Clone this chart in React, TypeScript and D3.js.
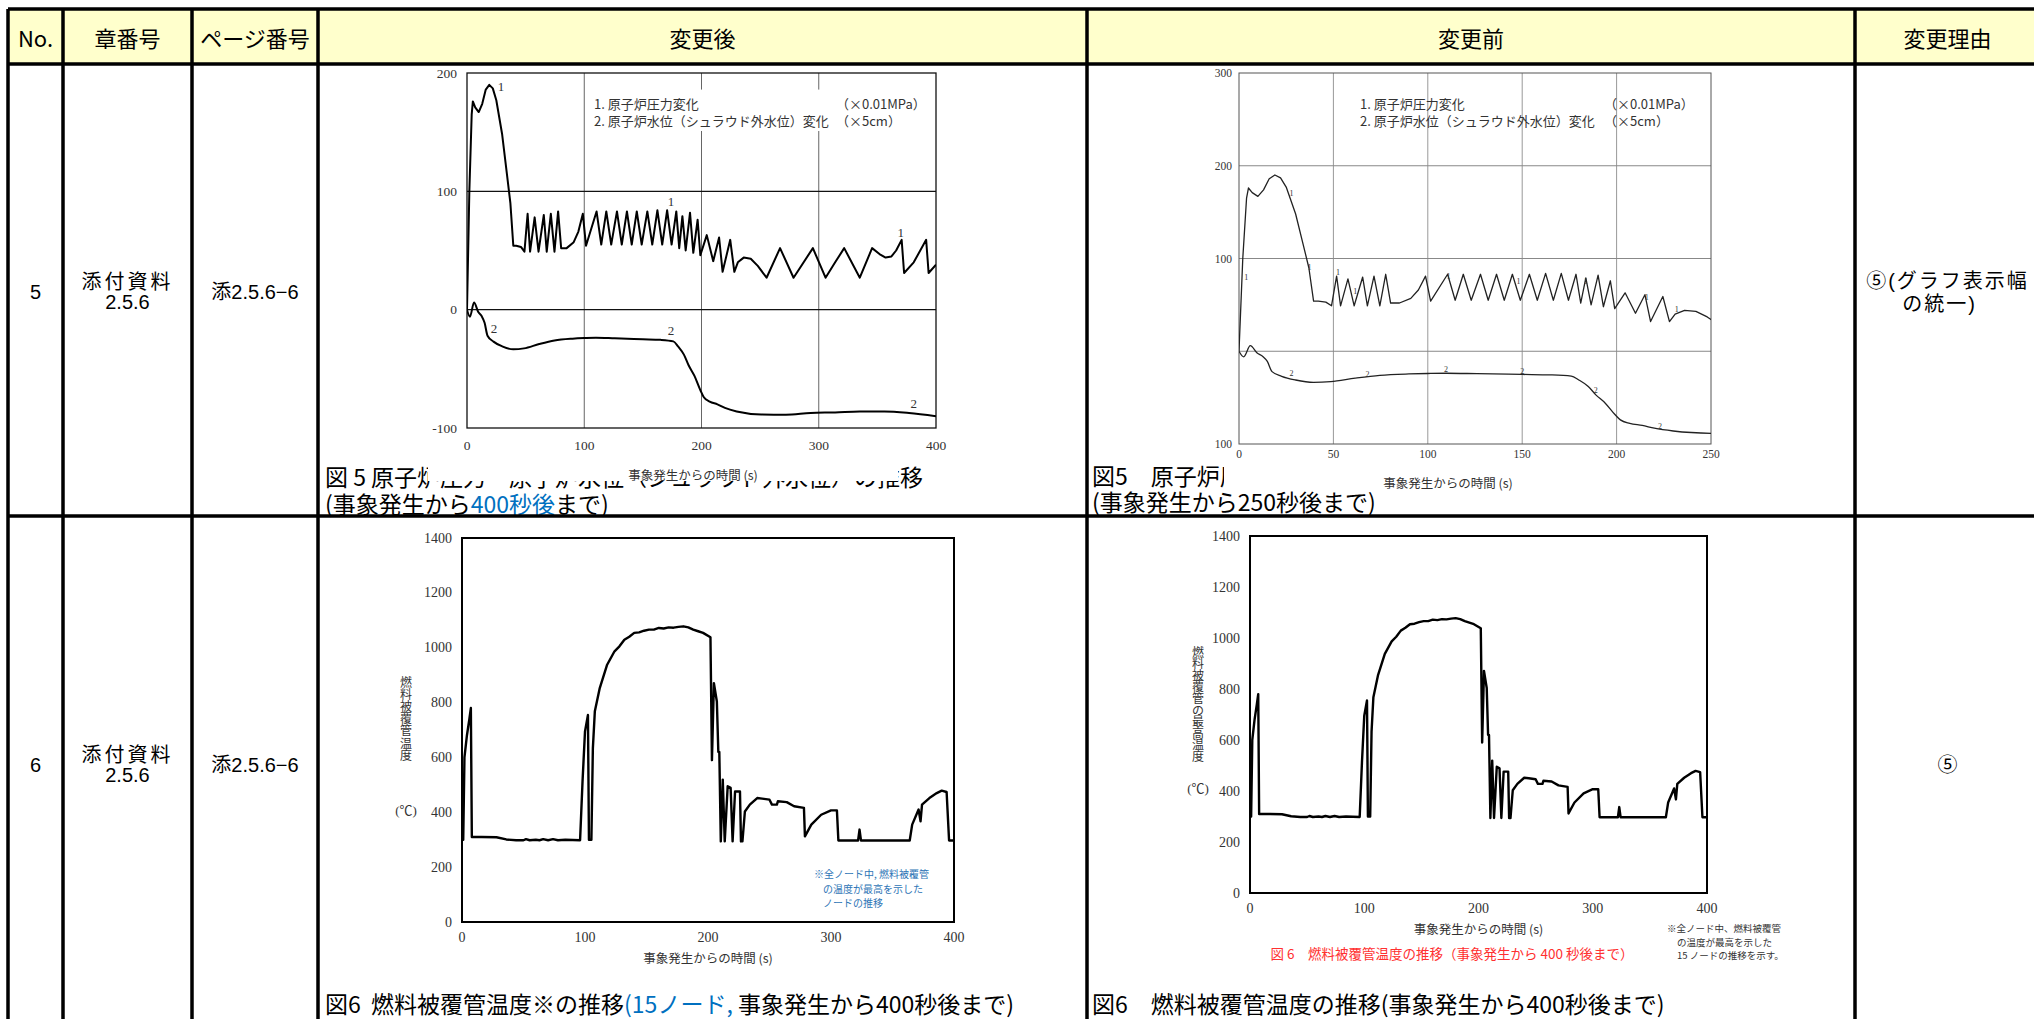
import React from "react";
import * as d3 from "d3";

type Pt = [number, number];

// table content
const headers = ["No.", "章番号", "ページ番号", "変更後", "変更前", "変更理由"];
const rowNos = ["5", "6"];
const chapterLines = ["添付資料", "2.5.6"];
const pageNo = "添2.5.6−6";
const reasonRow5 = ["⑤(グラフ表示幅", "の統一)"];
const reasonRow6 = "⑤";

// fig 5: reactor pressure (x0.01MPa) and water level (x5cm)
const pressure: Pt[] = [
  [0, 0], [2, 100], [4, 165], [5, 176], [7, 171], [10, 167], [13, 174], [16, 186], [19, 190], [22, 187],
  [25, 177], [30, 148], [34, 115], [37, 90], [39.5, 54], [42, 54], [46, 53], [49, 49],
  [51.7, 81], [53.8, 49], [57.7, 78], [61, 49], [65.5, 80], [68, 49], [71.5, 81], [74.6, 49], [77.7, 83], [80.3, 52],
  [85, 52], [91, 57], [95, 66], [98.8, 81], [101.5, 54], [110.5, 83], [114.5, 55], [118.8, 83], [123, 55],
  [127.9, 83], [132, 55], [136.4, 83], [140.5, 55], [144.8, 83], [149, 55], [153.8, 83], [158, 55], [162.4, 84],
  [166.5, 55], [170.7, 84], [174.5, 55], [178.5, 83], [181, 52], [183.7, 79], [186.5, 50], [190.2, 82], [193, 48],
  [196.7, 76], [199, 46], [204.5, 63], [210, 41], [215, 61], [218, 32], [224.5, 59], [228, 32], [231, 40],
  [236, 44], [242, 43], [248, 37], [255.5, 27], [267, 52], [278.5, 27], [295, 52], [305.8, 27], [314, 40],
  [321.7, 52], [335, 27], [345.5, 52], [351.8, 47], [357, 44], [362, 45], [366, 50], [370.7, 59], [372.8, 31],
  [381, 40], [391.6, 59], [393.7, 31], [400, 38],
];
const waterLevel: Pt[] = [
  [0, 0], [2.5, -6], [6, 6], [9.6, -2], [12.6, -5.6], [15, -11], [17.5, -22], [22.6, -27], [30, -31], [39.5, -33.5],
  [48.6, -32.7], [61.6, -29], [74.6, -26], [90, -24.5], [100, -24], [110, -23.7], [126, -24.2], [150, -25],
  [165, -25.5], [176, -26.8], [180, -31], [185, -38], [189, -47], [194, -56], [199, -68], [202, -74], [207, -77.7],
  [213.6, -80], [220, -83], [230, -86], [251, -88.5], [272, -88.7], [293, -87.3], [314, -86.8], [335, -86],
  [356, -86], [377, -87.3], [400, -90],
];
const pressureMarksNew: Pt[] = [[29, 189], [174, 91], [370, 65]];
const waterMarksNew: Pt[] = [[23, -16], [174, -18], [381, -79]];
const pressureMarksOld: Pt[] = [[3.9, 80], [27.8, 170], [37.4, 90], [52.5, 85], [61.6, 64], [111, 81], [148, 75], [183.7, 75], [216, 58], [231.8, 45]];
const waterMarksOld: Pt[] = [[27.8, -24], [68, -25], [109.7, -20], [150, -22], [189, -42], [223, -81]];

const fig5NewXTicks = [0, 100, 200, 300, 400];
const fig5NewYTicks = [200, 100, 0, -100];
const fig5OldXTicks = [0, 50, 100, 150, 200, 250];
const fig5OldYTicks = [300, 200, 100, 0, -100];
const fig5OldYLabels = ["300", "200", "100", "", "100"];

// fig 6: clad temperature (deg C)
const cladTemp: Pt[] = [
  [0, 300], [1, 300], [2, 600], [4, 680], [6, 740], [7.2, 780], [8, 310], [16, 310], [28, 309], [36, 301],
  [44, 298], [50, 298], [52, 302], [55, 298], [60, 300], [63, 298], [66, 302], [70, 298], [74, 302], [78, 298],
  [84, 300], [96, 298], [98, 513], [100, 695], [102.4, 755], [103.2, 300], [105.2, 300], [106.4, 634], [108, 768],
  [112, 853], [118, 938], [124, 987], [128, 1005], [132, 1029], [136, 1040], [140, 1054], [144, 1056], [148, 1062],
  [152, 1066], [156, 1066], [160, 1072], [164, 1070], [168, 1074], [172, 1073], [176, 1076], [180, 1078],
  [184, 1074], [188, 1066], [192, 1060], [196, 1054], [202, 1038], [203.2, 590], [204.8, 871], [207.2, 804],
  [208.4, 620], [209.2, 620], [210.4, 294], [212, 519], [213.6, 294], [216, 495], [218.4, 489], [220, 294],
  [222, 476], [226, 476], [226.8, 294], [228, 294], [230, 403], [234, 428], [240, 452], [244, 450], [250, 446],
  [252, 428], [256, 428], [256.8, 440], [264, 437], [270, 422], [278, 416], [278.8, 312], [284, 355], [292, 391],
  [300, 407], [304.8, 407], [306, 297], [322, 297], [323.2, 337], [324.4, 297], [364, 297], [366, 355],
  [371.2, 410], [372.8, 367], [374, 428], [380, 452], [386, 470], [390, 479], [394, 474], [396, 297], [400, 297],
];
const fig6XTicks = [0, 100, 200, 300, 400];
const fig6YTicks = [0, 200, 400, 600, 800, 1000, 1200, 1400];

const serif = "'Liberation Serif', 'Noto Sans CJK JP', serif";
const gothic = "'Noto Sans CJK JP', sans-serif";
const rowFont = "'Liberation Sans', 'Noto Sans CJK JP', sans-serif";

const colX = [8, 63, 192, 318, 1087, 1855, 2040];
const rowY = [9, 64, 516, 1040];

function Fig5(props: any) {
  const { id, box, xMax, yDomain, xTicks, yTicks, yLabels, gridX, gridY, isNew, pMarks, wMarks, legend } = props;
  const x = d3.scaleLinear().domain([0, xMax]).range([box.l, box.r]);
  const y = d3.scaleLinear().domain(yDomain).range([box.b, box.t]);
  const lin = d3.line<Pt>().x((d) => x(d[0])).y((d) => y(d[1]));
  const smooth = d3.line<Pt>().x((d) => x(d[0])).y((d) => y(d[1])).curve(d3.curveMonotoneX);
  const curveColor = isNew ? "#000" : "#222";
  const curveW = isNew ? 2 : 1.3;
  const markSize = isNew ? 13 : 8;
  const tickSize = isNew ? 13.5 : 11.5;
  return (
    <g>
      <clipPath id={id}>
        <rect x={box.l} y={box.t} width={box.r - box.l} height={box.b - box.t} />
      </clipPath>
      {gridX.map((v: number) => (
        <line key={"gx" + v} x1={x(v)} x2={x(v)} y1={box.t} y2={box.b} stroke={isNew ? "#666" : "#999"} strokeWidth={1} />
      ))}
      {gridY.map((v: number) => (
        <line key={"gy" + v} x1={box.l} x2={box.r} y1={y(v)} y2={y(v)} stroke={isNew ? "#111" : "#888"} strokeWidth={isNew ? 1.3 : 1} />
      ))}
      {isNew && <rect x={x(102)} y={y(186)} width={x(383) - x(102)} height={y(151) - y(186)} fill="#fff" />}
      <rect x={box.l} y={box.t} width={box.r - box.l} height={box.b - box.t} fill="none" stroke={isNew ? "#111" : "#555"} strokeWidth={isNew ? 1.3 : 1} />
      <g clipPath={`url(#${id})`}>
        <path d={lin(pressure) || ""} fill="none" stroke={curveColor} strokeWidth={curveW} strokeLinejoin="round" />
        <path d={smooth(waterLevel) || ""} fill="none" stroke={curveColor} strokeWidth={curveW} strokeLinejoin="round" />
      </g>
      {pMarks.map((d: Pt, i: number) => (
        <text key={"pm" + i} x={x(d[0])} y={y(d[1])} fontFamily={serif} fontSize={markSize} fill="#333" textAnchor="middle" dominantBaseline="central">1</text>
      ))}
      {wMarks.map((d: Pt, i: number) => (
        <text key={"wm" + i} x={x(d[0])} y={y(d[1])} fontFamily={serif} fontSize={markSize} fill="#333" textAnchor="middle" dominantBaseline="central">2</text>
      ))}
      {yTicks.map((v: number, i: number) => (
        <text key={"yt" + v} x={box.l - (isNew ? 10 : 7)} y={y(v)} fontFamily={serif} fontSize={tickSize} fill="#333" textAnchor="end" dominantBaseline="central">
          {yLabels[i]}
        </text>
      ))}
      {xTicks.map((v: number) => (
        <text key={"xt" + v} x={x(v)} y={box.b + (isNew ? 17 : 10)} fontFamily={serif} fontSize={tickSize} fill="#333" textAnchor="middle" dominantBaseline="central">
          {v}
        </text>
      ))}
      <text x={legend.x} y={legend.y} fontFamily={gothic} fontSize={13} fill="#333" dominantBaseline="central">1. 原子炉圧力変化</text>
      <text x={legend.x} y={legend.y + 17} fontFamily={gothic} fontSize={13} fill="#333" dominantBaseline="central">2. 原子炉水位（シュラウド外水位）変化</text>
      <text x={legend.ux} y={legend.y} fontFamily={gothic} fontSize={13} fill="#333" dominantBaseline="central">（×0.01MPa）</text>
      <text x={legend.ux} y={legend.y + 17} fontFamily={gothic} fontSize={13} fill="#333" dominantBaseline="central">（×5cm）</text>
    </g>
  );
}

function Fig6(props: any) {
  const { id, box, yTitle, yTitleX, yTitleY, yStep, unitY } = props;
  const x = d3.scaleLinear().domain([0, 400]).range([box.l, box.r]);
  const y = d3.scaleLinear().domain([0, 1400]).range([box.b, box.t]);
  const lin = d3.line<Pt>().x((d) => x(d[0])).y((d) => y(d[1]));
  return (
    <g>
      <clipPath id={id}>
        <rect x={box.l} y={box.t} width={box.r - box.l} height={box.b - box.t} />
      </clipPath>
      <rect x={box.l} y={box.t} width={box.r - box.l} height={box.b - box.t} fill="none" stroke="#000" strokeWidth={2} />
      <g clipPath={`url(#${id})`}>
        <path d={lin(cladTemp) || ""} fill="none" stroke="#000" strokeWidth={2.4} strokeLinejoin="round" />
      </g>
      {fig6YTicks.map((v) => (
        <text key={"yt" + v} x={box.l - 10} y={y(v)} fontFamily={serif} fontSize={14} fill="#333" textAnchor="end" dominantBaseline="central">{v}</text>
      ))}
      {fig6XTicks.map((v) => (
        <text key={"xt" + v} x={x(v)} y={box.b + 15} fontFamily={serif} fontSize={14} fill="#333" textAnchor="middle" dominantBaseline="central">{v}</text>
      ))}
      {/* vertical title, one character under another */}
      <text fontFamily={gothic} fontSize={12} fill="#333" textAnchor="middle">
        {Array.from(yTitle as string).map((c, i) => (
          <tspan key={i} x={yTitleX} y={yTitleY + i * yStep} dominantBaseline="central">{c}</tspan>
        ))}
      </text>
      <text x={yTitleX} y={unitY} fontFamily={serif} fontSize={13} fill="#333" textAnchor="middle" dominantBaseline="central">(℃)</text>
      <text x={(box.l + box.r) / 2} y={box.b + 35} fontFamily={gothic} fontSize={12.5} fill="#333" textAnchor="middle" dominantBaseline="central">事象発生からの時間 (s)</text>
    </g>
  );
}

export default function App() {
  const boxA = { l: 467, r: 936, t: 73, b: 428 };
  const boxB = { l: 1239, r: 1711, t: 73, b: 444 };
  const boxC = { l: 462, r: 954, t: 538, b: 922 };
  const boxD = { l: 1250, r: 1707, t: 536, b: 893 };
  const capSize = 23;
  return (
    <svg width={2034} height={1019} style={{ position: "absolute", left: 0, top: 0, background: "#fff" }}>
      <rect x={0} y={0} width={2034} height={1019} fill="#fff" />
      <rect x={colX[0]} y={rowY[0]} width={colX[6] - colX[0]} height={rowY[1] - rowY[0]} fill="#FFFFCC" />

      {/* fig 5 after / before */}
      <Fig5 id="clipA" box={boxA} xMax={400} yDomain={[-100, 200]} xTicks={fig5NewXTicks} yTicks={fig5NewYTicks}
        yLabels={fig5NewYTicks.map(String)} gridX={[100, 200, 300]} gridY={[100, 0]} isNew={true}
        pMarks={pressureMarksNew} wMarks={waterMarksNew} legend={{ x: 594, y: 103, ux: 836 }} />
      <Fig5 id="clipB" box={boxB} xMax={250} yDomain={[-100, 300]} xTicks={fig5OldXTicks} yTicks={fig5OldYTicks}
        yLabels={fig5OldYLabels} gridX={[50, 100, 150, 200]} gridY={[200, 100, 0]} isNew={false}
        pMarks={pressureMarksOld} wMarks={waterMarksOld} legend={{ x: 1360, y: 103, ux: 1604 }} />

      {/* fig 5 captions, partly hidden under the chart picture */}
      <text x={325} y={476} fontFamily={gothic} fontSize={capSize} dominantBaseline="central">図 5 原子炉圧力・原子炉水位（シュラウド外水位）の推移</text>
      <rect x={428} y={460} width={470} height={21} fill="#fff" />
      <text x={693} y={474} fontFamily={gothic} fontSize={12.5} fill="#333" textAnchor="middle" dominantBaseline="central">事象発生からの時間 (s)</text>
      <text x={325} y={503} fontFamily={gothic} fontSize={capSize} dominantBaseline="central">
        (事象発生から<tspan fill="#0070C0">400秒後</tspan>まで)
      </text>
      <text x={1092} y={475} fontFamily={gothic} fontSize={capSize} dominantBaseline="central">図5　原子炉圧力・原子炉水位（シュラウド外水位）の推移</text>
      <rect x={1224} y={459} width={520} height={32} fill="#fff" />
      <text x={1448} y={482} fontFamily={gothic} fontSize={12.5} fill="#333" textAnchor="middle" dominantBaseline="central">事象発生からの時間 (s)</text>
      <text x={1092} y={501} fontFamily={gothic} fontSize={capSize} dominantBaseline="central">(事象発生から250秒後まで)</text>

      {/* fig 6 after / before */}
      <Fig6 id="clipC" box={boxC} yTitle="燃料被覆管温度" yTitleX={406} yTitleY={681} yStep={12.2} unitY={810} />
      <Fig6 id="clipD" box={boxD} yTitle="燃料被覆管の最高温度" yTitleX={1198} yTitleY={651} yStep={11.6} unitY={788} />
      <g fontFamily={gothic} fontSize={10} fill="#2E75B6">
        <text x={814} y={873} dominantBaseline="central">※全ノード中, 燃料被覆管</text>
        <text x={823} y={888} dominantBaseline="central">の温度が最高を示した</text>
        <text x={823} y={902} dominantBaseline="central">ノードの推移</text>
      </g>
      <g fontFamily={gothic} fontSize={9.5} fill="#333">
        <text x={1667} y={928} dominantBaseline="central">※全ノード中、燃料被覆管</text>
        <text x={1677} y={942} dominantBaseline="central">の温度が最高を示した</text>
        <text x={1677} y={955} dominantBaseline="central">15 ノードの推移を示す。</text>
      </g>
      <text x={1452} y={953} fontFamily={gothic} fontSize={13.5} fill="#ff3030" textAnchor="middle" dominantBaseline="central">図 6　燃料被覆管温度の推移（事象発生から 400 秒後まで）</text>
      <text x={325} y={1003} fontFamily={gothic} fontSize={capSize} dominantBaseline="central">
        {"図6\u00a0\u00a0燃料被覆管温度※の推移"}<tspan fill="#0070C0">(15ノード,</tspan> 事象発生から400秒後まで)
      </text>
      <text x={1092} y={1003} fontFamily={gothic} fontSize={capSize} dominantBaseline="central">図6　燃料被覆管温度の推移(事象発生から400秒後まで)</text>

      {/* table grid */}
      {colX.map((cx) => (
        <line key={"c" + cx} x1={cx} x2={cx} y1={rowY[0]} y2={rowY[3]} stroke="#000" strokeWidth={3.5} />
      ))}
      {rowY.slice(0, 3).map((ry) => (
        <line key={"r" + ry} x1={colX[0]} x2={colX[6]} y1={ry} y2={ry} stroke="#000" strokeWidth={3.5} />
      ))}

      {/* header */}
      {headers.map((h, i) => (
        <text key={h} x={(colX[i] + colX[i + 1]) / 2} y={37} fontFamily={gothic} fontSize={22} textAnchor="middle" dominantBaseline="central">{h}</text>
      ))}

      {/* row cells */}
      {rowNos.map((n, i) => {
        const cy = i === 0 ? 292 : 765;
        return (
          <g key={n} fontFamily={rowFont} fontSize={20} textAnchor="middle">
            <text x={(colX[0] + colX[1]) / 2} y={cy} dominantBaseline="central">{n}</text>
            <text x={(colX[1] + colX[2]) / 2} y={cy - 10} dominantBaseline="central" letterSpacing={3}>{chapterLines[0]}</text>
            <text x={(colX[1] + colX[2]) / 2} y={cy + 10} dominantBaseline="central">{chapterLines[1]}</text>
            <text x={(colX[2] + colX[3]) / 2} y={cy} dominantBaseline="central">{pageNo}</text>
          </g>
        );
      })}
      <g fontFamily={rowFont} fontSize={20} textAnchor="middle">
        <text x={(colX[5] + colX[6]) / 2} y={281} dominantBaseline="central" letterSpacing={2}>{reasonRow5[0]}</text>
        <text x={(colX[5] + colX[6]) / 2 - 8} y={304} dominantBaseline="central" letterSpacing={2}>{reasonRow5[1]}</text>
        <text x={(colX[5] + colX[6]) / 2} y={765} dominantBaseline="central">{reasonRow6}</text>
      </g>
    </svg>
  );
}
